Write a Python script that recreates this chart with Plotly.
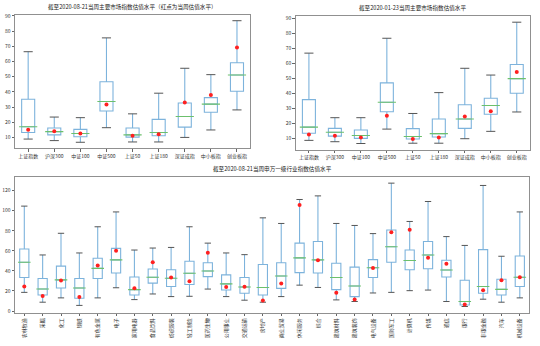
import plotly.graph_objects as go

# 主要市场指数
index_names = ["上证指数", "沪深300", "中证100", "中证500", "上证50", "上证180", "深证成指", "中小板指", "创业板指"]

# 截至2020-08-21
idx_a_low = [8.9, 7.9, 6.8, 16.4, 7.0, 7.0, 10.0, 14.9, 28.1]
idx_a_q1 = [13.2, 11.7, 10.4, 27.4, 10.2, 11.1, 16.8, 26.6, 40.4]
idx_a_med = [17.0, 13.8, 12.6, 33.6, 11.7, 13.2, 23.8, 31.9, 51.1]
idx_a_q3 = [35.1, 16.2, 15.3, 46.6, 16.2, 21.9, 32.6, 36.2, 59.1]
idx_a_high = [66.4, 23.4, 23.0, 75.5, 25.5, 39.1, 55.5, 51.3, 86.8]
idx_a_now = [15.1, 14.0, 12.6, 31.7, 11.1, 12.1, 33.0, 37.9, 69.1]

# 截至2020-01-23
idx_b_low = [8.7, 7.8, 6.6, 16.2, 6.8, 6.8, 9.8, 14.7, 27.6]
idx_b_q1 = [13.4, 11.5, 10.0, 27.8, 9.6, 10.9, 16.7, 26.1, 40.1]
idx_b_med = [17.5, 14.1, 11.9, 34.1, 11.3, 13.2, 22.9, 31.9, 49.8]
idx_b_q3 = [35.8, 16.7, 15.6, 47.0, 16.5, 22.9, 32.4, 36.7, 59.2]
idx_b_high = [66.8, 23.8, 23.8, 76.7, 26.6, 40.5, 56.7, 52.2, 87.4]
idx_b_now = [12.6, 11.7, 10.6, 25.1, 9.6, 10.6, 24.6, 28.1, 54.3]

# 申万一级行业
sw_names = ["农林牧渔", "采掘", "化工", "钢铁", "有色金属", "电子", "家用电器", "食品饮料",
            "纺织服装", "轻工制造", "医药生物", "公用事业", "交通运输", "房地产",
            "商业贸易", "休闲服务", "综合", "建筑材料", "建筑装饰", "电气设备", "国防军工",
            "计算机", "传媒", "通信", "银行", "非银金融", "汽车", "机械设备"]
sw_low = [18.6, 8.8, 13.1, 5.6, 13.1, 23.2, 11.4, 17.0, 14.4, 14.7, 21.9, 14.4, 10.8, 8.8,
          14.4, 25.8, 23.5, 11.1, 9.5, 18.0, 18.6, 20.3, 20.9, 9.5, 4.5, 11.8, 8.8, 13.1]
sw_q1 = [33.4, 16.0, 22.9, 12.8, 32.4, 37.9, 16.0, 27.8, 24.5, 26.5, 34.3, 20.9, 17.7, 16.0,
         22.6, 38.3, 37.9, 21.3, 14.4, 33.4, 48.7, 41.2, 42.2, 34.0, 6.0, 17.7, 16.0, 24.5]
sw_med = [48.7, 21.9, 31.1, 22.9, 42.5, 51.0, 21.3, 33.7, 32.7, 37.6, 39.9, 27.1, 23.9, 23.5,
          35.0, 53.0, 51.0, 33.4, 24.9, 43.2, 64.1, 50.4, 55.9, 40.9, 9.5, 24.5, 21.6, 33.7]
sw_q3 = [61.8, 32.4, 44.8, 32.4, 52.6, 62.5, 34.0, 41.9, 41.2, 49.7, 48.1, 36.0, 33.4, 46.4,
         48.1, 67.7, 69.3, 47.7, 43.8, 51.3, 80.8, 60.8, 69.3, 50.7, 30.7, 61.2, 31.7, 54.9]
sw_high = [104.6, 55.9, 77.5, 57.9, 84.0, 98.8, 60.8, 62.8, 63.4, 84.0, 67.7, 57.9, 56.2, 92.9,
           87.3, 111.2, 114.8, 87.3, 85.3, 77.2, 127.5, 89.3, 109.2, 74.2, 65.4, 125.2, 54.6, 98.8]
sw_now = [24.5, 15.0, 30.4, 14.1, 45.5, 60.2, 22.6, 48.7, 33.4, 29.8, 58.2, 23.9, 24.2, 10.5,
          27.5, 105.6, 50.7, 18.3, 11.4, 42.8, 78.5, 81.1, 53.0, 47.1, 6.5, 20.6, 30.7, 33.7]

BOX_COLOR = "#7db3dc"
MED_COLOR = "#6cc06c"
CAP_COLOR = "#555555"
DOT_COLOR = "#ff2020"
FONT = "Noto Sans CJK SC"

fig = go.Figure()


def add_panel(n, cats, low, q1, med, q3, high, now, box_px):
    xa = "x" if n == 1 else f"x{n}"
    ya = "y" if n == 1 else f"y{n}"
    fig.add_trace(go.Box(
        x=cats, q1=q1, median=med, q3=q3, lowerfence=low, upperfence=high,
        width=0.5, whiskerwidth=0, boxpoints=False,
        line=dict(color=BOX_COLOR, width=1.1), fillcolor="rgba(0,0,0,0)",
        xaxis=xa, yaxis=ya, showlegend=False, hoverinfo="skip"))
    # 中位数
    fig.add_trace(go.Scatter(
        x=cats, y=med, mode="markers", xaxis=xa, yaxis=ya, showlegend=False,
        marker=dict(symbol="line-ew", size=box_px, line=dict(color=MED_COLOR, width=1.1))))
    # 须线端点
    fig.add_trace(go.Scatter(
        x=cats + cats, y=low + high, mode="markers", xaxis=xa, yaxis=ya, showlegend=False,
        marker=dict(symbol="line-ew", size=box_px / 2, line=dict(color=CAP_COLOR, width=1))))
    # 当周估值
    fig.add_trace(go.Scatter(
        x=cats, y=now, mode="markers", xaxis=xa, yaxis=ya, showlegend=False,
        marker=dict(symbol="circle", size=4, color=DOT_COLOR)))


add_panel(1, index_names, idx_a_low, idx_a_q1, idx_a_med, idx_a_q3, idx_a_high, idx_a_now, 13)
add_panel(2, index_names, idx_b_low, idx_b_q1, idx_b_med, idx_b_q3, idx_b_high, idx_b_now, 13)
add_panel(3, sw_names, sw_low, sw_q1, sw_med, sw_q3, sw_high, sw_now, 9)

tick_font = dict(family=FONT, size=5, color="#333333")
axis_common = dict(showline=True, mirror=True, linecolor="#909090", linewidth=1,
                   showgrid=False, zeroline=False, ticks="outside", ticklen=2.5,
                   tickcolor="#666666", tickfont=tick_font)

fig.update_layout(
    width=540, height=346,
    margin=dict(l=0, r=0, t=0, b=0),
    paper_bgcolor="white", plot_bgcolor="white",
    font=dict(family=FONT, size=5, color="#333333"),
    xaxis=dict(domain=[0.028, 0.463], range=[-0.5, 8.5], anchor="y", **axis_common),
    yaxis=dict(domain=[0.575, 0.966], range=[2.8, 90.8], anchor="x",
               tickvals=list(range(10, 100, 10)), **axis_common),
    xaxis2=dict(domain=[0.548, 0.981], range=[-0.5, 8.5], anchor="y2", **axis_common),
    yaxis2=dict(domain=[0.5714, 0.9616], range=[2.56, 91.44], anchor="x2",
                tickvals=list(range(10, 100, 10)), **axis_common),
    xaxis3=dict(domain=[0.028, 0.9796], range=[-0.5, 27.5], anchor="y3",
                tickangle=-90, **axis_common),
    yaxis3=dict(domain=[0.0945, 0.4913], range=[-1.65, 133.65], anchor="x3",
                tickvals=list(range(0, 140, 20)), **axis_common),
    annotations=[
        dict(text="截至2020-08-21当周主要市场指数估值水平（红点为当周估值水平）",
             x=0.2455, y=0.966, xref="paper", yref="paper", xanchor="center", yanchor="bottom",
             yshift=2, showarrow=False, font=dict(family=FONT, size=5.6, color="#222222")),
        dict(text="截至2020-01-23当周主要市场指数估值水平",
             x=0.7645, y=0.9616, xref="paper", yref="paper", xanchor="center", yanchor="bottom",
             yshift=2, showarrow=False, font=dict(family=FONT, size=5.6, color="#222222")),
        dict(text="截至2020-08-21当周申万一级行业指数估值水平",
             x=0.5038, y=0.4913, xref="paper", yref="paper", xanchor="center", yanchor="bottom",
             yshift=2, showarrow=False, font=dict(family=FONT, size=5.6, color="#222222")),
    ],
)

fig.write_html("out.html")
